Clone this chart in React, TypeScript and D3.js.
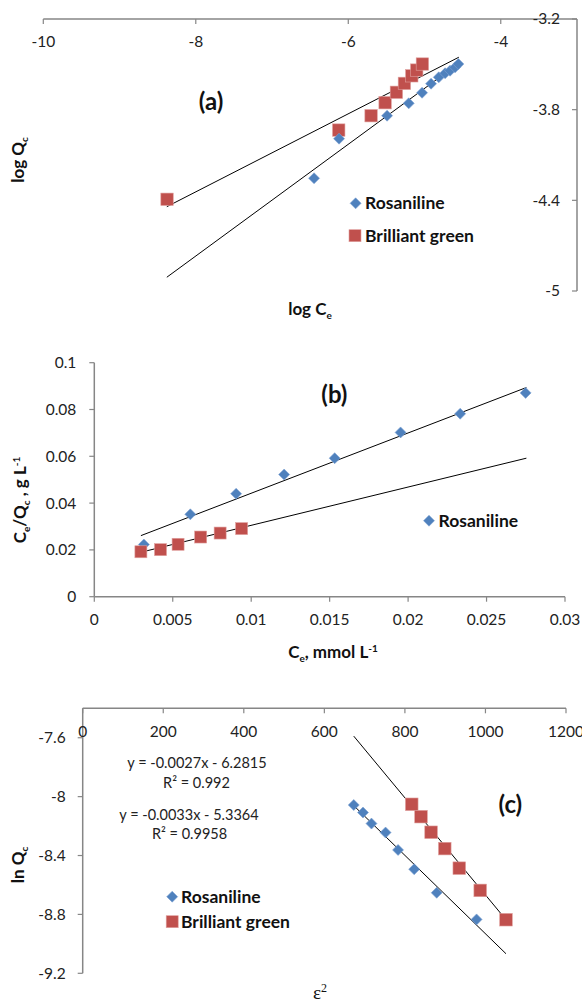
import React from "react";
import * as d3 from "d3";

// ---------- Panel (a): log Qc vs log Ce ----------
const aRosX = [-6.121, -6.449, -5.491, -5.207, -5.032, -4.914, -4.813, -4.73, -4.665, -4.599, -4.556];
const aRosY = [-3.992, -4.254, -3.84, -3.758, -3.688, -3.628, -3.586, -3.559, -3.542, -3.52, -3.498];
const aBgX = [-8.377, -6.125, -5.701, -5.517, -5.369, -5.264, -5.167, -5.102, -5.028];
const aBgY = [-4.393, -3.935, -3.84, -3.754, -3.685, -3.626, -3.576, -3.538, -3.498];
const aFitX = [-8.38, -4.55];
const aFitUpperY = [-4.442, -3.453];
const aFitLowerY = [-4.909, -3.493];
const aTicksX = [-10, -8, -6, -4];
const aTicksY = [-3.2, -3.8, -4.4, -5];

// ---------- Panel (b): Ce/Qc vs Ce ----------
const bRosX = [0.00316, 0.00612, 0.00904, 0.0121, 0.01532, 0.01952, 0.02332, 0.02749];
const bRosY = [0.0223, 0.0352, 0.044, 0.0522, 0.0592, 0.0702, 0.0782, 0.0871];
const bBgX = [0.00297, 0.00422, 0.00534, 0.00678, 0.00802, 0.00939];
const bBgY = [0.0192, 0.0201, 0.0224, 0.0255, 0.0272, 0.0291];
const bFitX = [0.00297, 0.02754];
const bFitUpperY = [0.0261, 0.0894];
const bFitLowerY = [0.019, 0.0592];
const bTicksX = [0, 0.005, 0.01, 0.015, 0.02, 0.025, 0.03];
const bTickLabelsX = ["0", "0.005", "0.01", "0.015", "0.02", "0.025", "0.03"];
const bTicksY = [0, 0.02, 0.04, 0.06, 0.08, 0.1];
const bTickLabelsY = ["0", "0.02", "0.04", "0.06", "0.08", "0.1"];

// ---------- Panel (c): ln Qc vs eps^2 ----------
const cRosX = [673, 696, 717, 752, 783, 823, 879, 978];
const cRosY = [-8.057, -8.108, -8.183, -8.244, -8.362, -8.493, -8.653, -8.834];
const cBgX = [817, 840, 865, 899, 935, 987, 1051];
const cBgY = [-8.052, -8.136, -8.242, -8.353, -8.486, -8.637, -8.836];
const cFitX = [673, 1051];
const cFitBgY = [-7.589, -8.836];
const cFitRosY = [-8.061, -9.067];
const cTicksX = [0, 200, 400, 600, 800, 1000, 1200];
const cTicksY = [-7.6, -8, -8.4, -8.8, -9.2];
const cEquations = ["y = -0.0027x - 6.2815", "R² = 0.992", "y = -0.0033x - 5.3364", "R² = 0.9958"];

const seriesNames = ["Rosaniline", "Brilliant green"];

const BLUE = "#4F81BD";
const RED = "#C0504D";
const AXIS = "#868686";
const FONT = "Lato, 'Open Sans', sans-serif";

function Diamond({ x, y, r = 5.5 }: { x: number; y: number; r?: number }) {
  return (
    <path
      d={`M${x},${y - r}L${x + r},${y}L${x},${y + r}L${x - r},${y}Z`}
      fill={BLUE}
      stroke="#7FA3D3"
      strokeWidth={0.6}
    />
  );
}
function Square({ x, y, r = 6 }: { x: number; y: number; r?: number }) {
  return (
    <rect x={x - r} y={y - r} width={2 * r} height={2 * r} fill={RED} stroke="#E0A09E" strokeWidth={0.6} />
  );
}

function fmt(v: number) {
  return String(Math.round(v * 10) / 10);
}

export default function App() {
  const ax = d3.scaleLinear().domain([-10, -3]).range([43.3, 577]);
  const ay = d3.scaleLinear().domain([-5, -3.2]).range([291, 19]);
  const bx = d3.scaleLinear().domain([0, 0.03]).range([94.3, 565]);
  const by = d3.scaleLinear().domain([0, 0.1]).range([596.7, 362.7]);
  const cx = d3.scaleLinear().domain([0, 1200]).range([82.7, 566]);
  const cy = d3.scaleLinear().domain([-9.2, -7.4]).range([973.3, 708.3]);

  const tickFont = { fontFamily: FONT, fontSize: 15.5, fill: "#222" };
  const boldFont = { fontFamily: FONT, fontSize: 17, fontWeight: 700, fill: "#111" };
  const legFont = { ...boldFont, fontSize: 17.5 };
  const labelFont = { ...boldFont, fontSize: 24, fontWeight: 700 };

  return (
    <svg
      width={582}
      height={1002}
      style={{ position: "absolute", left: 0, top: 0, background: "#fff" }}
      xmlns="http://www.w3.org/2000/svg"
    >
      <rect width={582} height={1002} fill="#fff" />

      {/* ================= Panel (a) ================= */}
      <g>
        <line x1={ax(-10)} x2={ax(-3)} y1={ay(-3.2)} y2={ay(-3.2)} stroke={AXIS} strokeWidth={1.5} />
        {aTicksX.map((t) => (
          <g key={"atx" + t}>
            <line x1={ax(t)} x2={ax(t)} y1={ay(-3.2)} y2={ay(-3.2) + 5} stroke={AXIS} strokeWidth={1.2} />
            <text x={ax(t)} y={ay(-3.2) + 22.7} dy="0.35em" textAnchor="middle" {...tickFont}>
              {t}
            </text>
          </g>
        ))}
        <line x1={ax(-3)} x2={ax(-3)} y1={ay(-3.2)} y2={ay(-5)} stroke={AXIS} strokeWidth={1.5} />
        {aTicksY.map((t) => (
          <g key={"aty" + t}>
            <line x1={ax(-3) - 5} x2={ax(-3)} y1={ay(t)} y2={ay(t)} stroke={AXIS} strokeWidth={1.2} />
            <text x={ax(-3) - 17} y={ay(t)} dy="0.35em" textAnchor="end" {...tickFont}>
              {fmt(t)}
            </text>
          </g>
        ))}
        <line x1={ax(aFitX[0])} y1={ay(aFitUpperY[0])} x2={ax(aFitX[1])} y2={ay(aFitUpperY[1])} stroke="#000" strokeWidth={1} />
        <line x1={ax(aFitX[0])} y1={ay(aFitLowerY[0])} x2={ax(aFitX[1])} y2={ay(aFitLowerY[1])} stroke="#000" strokeWidth={1} />
        {aBgX.map((v, i) => (
          <Square key={"abg" + i} x={ax(v)} y={ay(aBgY[i])} r={6.2} />
        ))}
        {aRosX.map((v, i) => (
          <Diamond key={"aros" + i} x={ax(v)} y={ay(aRosY[i])} />
        ))}
        <text x={211} y={101.7} dy="0.35em" textAnchor="middle" {...labelFont}>
          (a)
        </text>
        <Diamond x={355.6} y={203.3} />
        <text x={365} y={203.3} dy="0.35em" {...legFont}>
          {seriesNames[0]}
        </text>
        <Square x={355} y={235.7} />
        <text x={365} y={235.7} dy="0.35em" {...legFont}>
          {seriesNames[1]}
        </text>
        <text transform="translate(18,160) rotate(-90)" textAnchor="middle" dy="0.35em" {...boldFont}>
          log Q<tspan fontSize={10} dy="4">c</tspan>
        </text>
        <text x={310} y={309} textAnchor="middle" dy="0.35em" {...boldFont}>
          log C<tspan fontSize={10} dy="4">e</tspan>
        </text>
      </g>

      {/* ================= Panel (b) ================= */}
      <g>
        <line x1={bx(0)} x2={bx(0)} y1={by(0.1)} y2={by(0)} stroke={AXIS} strokeWidth={1.5} />
        <line x1={bx(0)} x2={bx(0.03)} y1={by(0)} y2={by(0)} stroke={AXIS} strokeWidth={1.5} />
        {bTicksY.map((t, i) => (
          <g key={"bty" + i}>
            <line x1={bx(0) - 5} x2={bx(0)} y1={by(t)} y2={by(t)} stroke={AXIS} strokeWidth={1.2} />
            <text x={bx(0) - 18} y={by(t)} dy="0.35em" textAnchor="end" {...tickFont}>
              {bTickLabelsY[i]}
            </text>
          </g>
        ))}
        {bTicksX.map((t, i) => (
          <g key={"btx" + i}>
            <line x1={bx(t)} x2={bx(t)} y1={by(0)} y2={by(0) + 5} stroke={AXIS} strokeWidth={1.2} />
            <text x={bx(t)} y={by(0) + 23} dy="0.35em" textAnchor="middle" {...tickFont}>
              {bTickLabelsX[i]}
            </text>
          </g>
        ))}
        <line x1={bx(bFitX[0])} y1={by(bFitUpperY[0])} x2={bx(bFitX[1])} y2={by(bFitUpperY[1])} stroke="#000" strokeWidth={1} />
        <line x1={bx(bFitX[0])} y1={by(bFitLowerY[0])} x2={bx(bFitX[1])} y2={by(bFitLowerY[1])} stroke="#000" strokeWidth={1} />
        {bRosX.map((v, i) => (
          <Diamond key={"bros" + i} x={bx(v)} y={by(bRosY[i])} />
        ))}
        {bBgX.map((v, i) => (
          <Square key={"bbg" + i} x={bx(v)} y={by(bBgY[i])} />
        ))}
        <text x={334.4} y={395} dy="0.35em" textAnchor="middle" {...labelFont}>
          (b)
        </text>
        <Diamond x={429} y={520.7} />
        <text x={438.5} y={520.7} dy="0.35em" {...legFont}>
          {seriesNames[0]}
        </text>
        <text transform="translate(20,500) rotate(-90)" textAnchor="middle" dy="0.35em" {...boldFont}>
          C<tspan fontSize={10} dy="4">e</tspan>
          <tspan dy="-4">/Q</tspan>
          <tspan fontSize={10} dy="4">c</tspan>
          <tspan dy="-4"> , g L</tspan>
          <tspan fontSize={10} dy="-6">-1</tspan>
        </text>
        <text x={333} y={652} textAnchor="middle" dy="0.35em" {...boldFont}>
          C<tspan fontSize={10} dy="4">e</tspan>
          <tspan dy="-4">, mmol L</tspan>
          <tspan fontSize={10} dy="-6">-1</tspan>
        </text>
      </g>

      {/* ================= Panel (c) ================= */}
      <g>
        <line x1={cx(0)} x2={cx(1200)} y1={cy(-7.4)} y2={cy(-7.4)} stroke={AXIS} strokeWidth={1.5} />
        <line x1={cx(0)} x2={cx(0)} y1={cy(-7.4)} y2={cy(-9.2)} stroke={AXIS} strokeWidth={1.5} />
        {cTicksX.map((t) => (
          <g key={"ctx" + t}>
            <line x1={cx(t)} x2={cx(t)} y1={cy(-7.4)} y2={cy(-7.4) + 5} stroke={AXIS} strokeWidth={1.2} />
            <text x={cx(t)} y={cy(-7.4) + 23.4} dy="0.35em" textAnchor="middle" {...tickFont}>
              {t}
            </text>
          </g>
        ))}
        {cTicksY.map((t) => (
          <g key={"cty" + t}>
            <line x1={cx(0) - 5} x2={cx(0)} y1={cy(t)} y2={cy(t)} stroke={AXIS} strokeWidth={1.2} />
            <text x={cx(0) - 17} y={cy(t)} dy="0.35em" textAnchor="end" {...tickFont}>
              {fmt(t)}
            </text>
          </g>
        ))}
        <line x1={cx(cFitX[0])} y1={cy(cFitBgY[0])} x2={cx(cFitX[1])} y2={cy(cFitBgY[1])} stroke="#000" strokeWidth={1} />
        <line x1={cx(cFitX[0])} y1={cy(cFitRosY[0])} x2={cx(cFitX[1])} y2={cy(cFitRosY[1])} stroke="#000" strokeWidth={1} />
        {cBgX.map((v, i) => (
          <Square key={"cbg" + i} x={cx(v)} y={cy(cBgY[i])} r={6.3} />
        ))}
        {cRosX.map((v, i) => (
          <Diamond key={"cros" + i} x={cx(v)} y={cy(cRosY[i])} />
        ))}
        <text x={510.4} y={805} dy="0.35em" textAnchor="middle" {...labelFont}>
          (c)
        </text>
        {cEquations.map((s, i) => (
          <text
            key={"eq" + i}
            x={[197, 196.5, 189, 189.5][i]}
            y={[763.3, 782.7, 815, 834.3][i]}
            dy="0.35em"
            textAnchor="middle"
            fontFamily={FONT}
            fontSize={14.5}
            fill="#222"
          >
            {s}
          </text>
        ))}
        <Diamond x={172.2} y={896.7} />
        <text x={181} y={896.7} dy="0.35em" {...legFont}>
          {seriesNames[0]}
        </text>
        <Square x={172.2} y={921.7} />
        <text x={181} y={921.7} dy="0.35em" {...legFont}>
          {seriesNames[1]}
        </text>
        <text transform="translate(18,865) rotate(-90)" textAnchor="middle" dy="0.35em" {...boldFont}>
          ln Q<tspan fontSize={10} dy="4">c</tspan>
        </text>
        <text x={320} y={992} textAnchor="middle" dy="0.35em" fontFamily="'Liberation Serif', 'DejaVu Serif', serif" fontSize={19} fill="#111">
          ε<tspan fontSize={12} dy="-7">2</tspan>
        </text>
      </g>
    </svg>
  );
}
